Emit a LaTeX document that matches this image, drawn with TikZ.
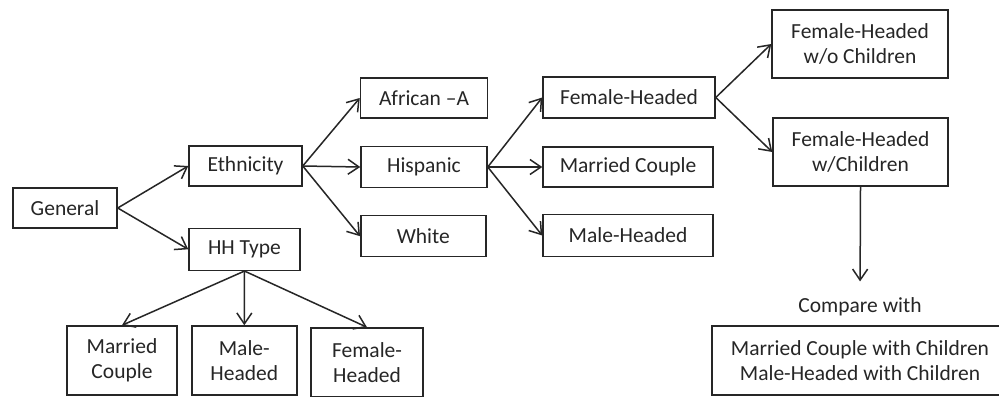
\documentclass[tikz,border=0pt]{standalone}
\usepackage{fontspec}
\setmainfont{Carlito}
\usetikzlibrary{arrows.meta}
\begin{document}
\begin{tikzpicture}[x=0.5pt,y=-0.5pt,
  box/.style={draw=black!85,line width=0.75pt,fill=white,inner sep=0pt,align=center,
    font=\fontsize{10.75pt}{12.5pt}\selectfont,text=black!85},
  lbl/.style={inner sep=0pt,font=\fontsize{10.75pt}{12.5pt}\selectfont,text=black!85},
  arr/.style={draw=black!85,line width=0.75pt,-{Straight Barb[length=5.5pt,width=7.5pt,line width=0.75pt]}}]
\clip (0,0) rectangle (999,396);
\fill[white] (0,0) rectangle (999,396);
% first column
\node[box,minimum width=52pt,minimum height=20pt] (gen) at (65,208) {General};
% second column
\node[box,minimum width=56.5pt,minimum height=20pt] (eth) at (245.5,166) {Ethnicity};
\node[box,minimum width=55.5pt,minimum height=21pt] (hh) at (244.5,249.3) {HH Type};
% third column
\node[box,minimum width=63.5pt,minimum height=20pt] (afr) at (424,98) {African –A};
\node[box,minimum width=63pt,minimum height=20.5pt] (his) at (424,167) {Hispanic};
\node[box,minimum width=62.5pt,minimum height=20.5pt] (whi) at (423.3,236.2) {White};
% fourth column
\node[box,minimum width=86pt,minimum height=20.5pt] (fh) at (629,97.5) {Female-Headed};
\node[box,minimum width=85pt,minimum height=20pt] (mc) at (628,167) {Married Couple};
\node[box,minimum width=85pt,minimum height=21pt] (mh) at (628,235.5) {Male-Headed};
% fifth column
\node[box,minimum width=88pt,minimum height=34pt] (fhwo) at (860,44) {Female-Headed\\w/o Children};
\node[box,minimum width=87.5pt,minimum height=34pt] (fhw) at (860.5,152) {Female-Headed\\w/Children};
% bottom row
\node[box,minimum width=55pt,minimum height=34.5pt] (bmc) at (122,360.5) {Married\\Couple};
\node[box,minimum width=52.5pt,minimum height=34.5pt] (bmh) at (244.3,360.5) {Male-\\Headed};
\node[box,minimum width=56pt,minimum height=34.5pt] (bfh) at (367,362.5) {Female-\\Headed};
% compare
\node[lbl] (cmp) at (860,307) {Compare with};
\node[box,minimum width=148pt,minimum height=34.5pt] (cbox) at (860,360.5) {Married Couple with Children\\Male-Headed with Children};
% connectors
\draw[arr] (gen.east) -- (eth.west);
\draw[arr] (gen.east) -- (hh.west);
\draw[arr] (eth.east) -- (afr.west);
\draw[arr] (eth.east) -- (his.west);
\draw[arr] (eth.east) -- (whi.west);
\draw[arr] (his.east) -- (fh.west);
\draw[arr] (his.east) -- (mc.west);
\draw[arr] (his.east) -- (mh.west);
\draw[arr] (fh.east) -- (fhwo.west);
\draw[arr] (fh.east) -- (fhw.west);
\draw[arr] (hh.south) -- (bmc.north);
\draw[arr] (hh.south) -- (bmh.north);
\draw[arr] (hh.south) -- (bfh.north);
\draw[arr,shorten >=8pt] (fhw.south) -- (cmp.north);
\end{tikzpicture}
\end{document}
